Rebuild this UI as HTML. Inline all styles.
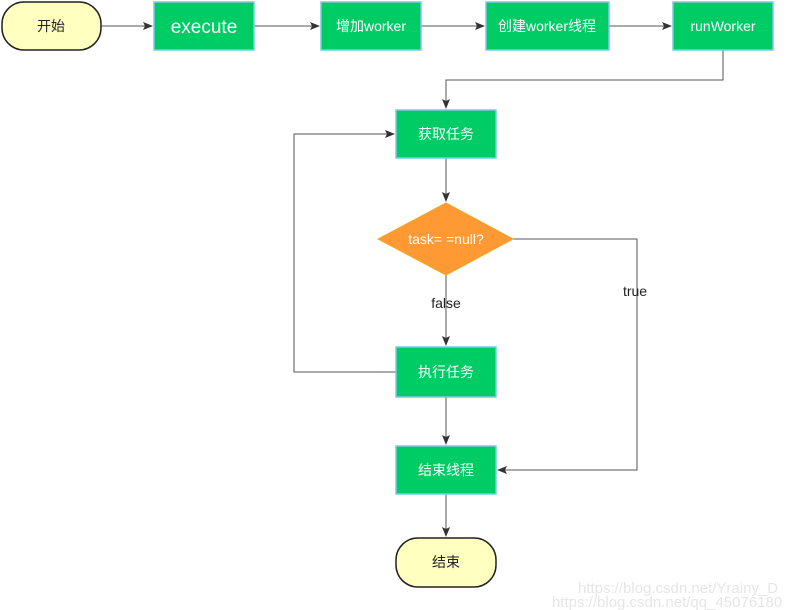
<!DOCTYPE html>
<html><head><meta charset="utf-8"><style>body{margin:0;background:#fff}svg{display:block}text{font-family:"Liberation Sans","Noto Sans CJK SC",sans-serif}</style></head><body>
<svg width="796" height="610" viewBox="0 0 796 610" xmlns="http://www.w3.org/2000/svg">
<defs><marker id="a" markerWidth="10" markerHeight="8" refX="9" refY="4" orient="auto" markerUnits="userSpaceOnUse"><path d="M0,0 L10,4 L0,8 L2,4 Z" fill="#333"/></marker></defs>
<g stroke="#555" stroke-width="1" fill="none">
<line x1="101" y1="26" x2="152" y2="26" marker-end="url(#a)"/>
<line x1="254" y1="26" x2="319" y2="26" marker-end="url(#a)"/>
<line x1="421" y1="26" x2="484" y2="26" marker-end="url(#a)"/>
<line x1="609" y1="26" x2="671" y2="26" marker-end="url(#a)"/>
<polyline points="723,50 723,80 446,80 446,108" marker-end="url(#a)"/>
<line x1="446" y1="158" x2="446" y2="201" marker-end="url(#a)"/>
<line x1="446" y1="275" x2="446" y2="345" marker-end="url(#a)"/>
<polyline points="396,372 294,372 294,134 394,134" marker-end="url(#a)"/>
<polyline points="513,239 637,239 637,470 498,470" marker-end="url(#a)"/>
<line x1="446" y1="397" x2="446" y2="444" marker-end="url(#a)"/>
<line x1="446" y1="494" x2="446" y2="536" marker-end="url(#a)"/>
</g>
<rect x="2" y="2" width="99" height="48" rx="22" fill="#FFFFC0" stroke="#222" stroke-width="1.5"/>
<rect x="396" y="538" width="100" height="49" rx="22" fill="#FFFFC0" stroke="#222" stroke-width="1.5"/>
<g fill="#00CC66" stroke="#7EC8E3" stroke-width="1.5">
<rect x="154" y="2" width="100" height="48"/>
<rect x="321" y="2" width="100" height="48"/>
<rect x="486" y="2" width="123" height="48"/>
<rect x="673" y="2" width="100" height="48"/>
<rect x="396" y="110" width="100" height="48"/>
<rect x="396" y="347" width="100" height="50"/>
<rect x="396" y="446" width="100" height="48"/>
</g>
<polygon points="446,203 513,239 446,275 378,239" fill="#FF9933" stroke="#F5A623" stroke-width="1"/>
<g font-size="14" text-anchor="middle" fill="#fff">
<text x="204" y="33" font-size="19">execute</text>
<text x="371" y="31">增加worker</text>
<text x="547" y="31">创建worker线程</text>
<text x="723" y="31">runWorker</text>
<text x="446" y="139">获取任务</text>
<text x="446" y="377">执行任务</text>
<text x="446" y="475">结束线程</text>
<text x="446" y="244">task= =null?</text>
</g>
<g font-size="14" text-anchor="middle" fill="#222">
<text x="51" y="31">开始</text>
<text x="446" y="567">结束</text>
<text x="446" y="308">false</text>
<text x="635" y="296">true</text>
</g>
<text x="578" y="593" font-size="15" fill="#e6e6e6">https://blog.csdn.net/Yrainy_D</text>
<text x="552" y="607" font-size="15" fill="#e6e6e6">https://blog.csdn.net/qq_45076180</text>
</svg>
</body></html>
